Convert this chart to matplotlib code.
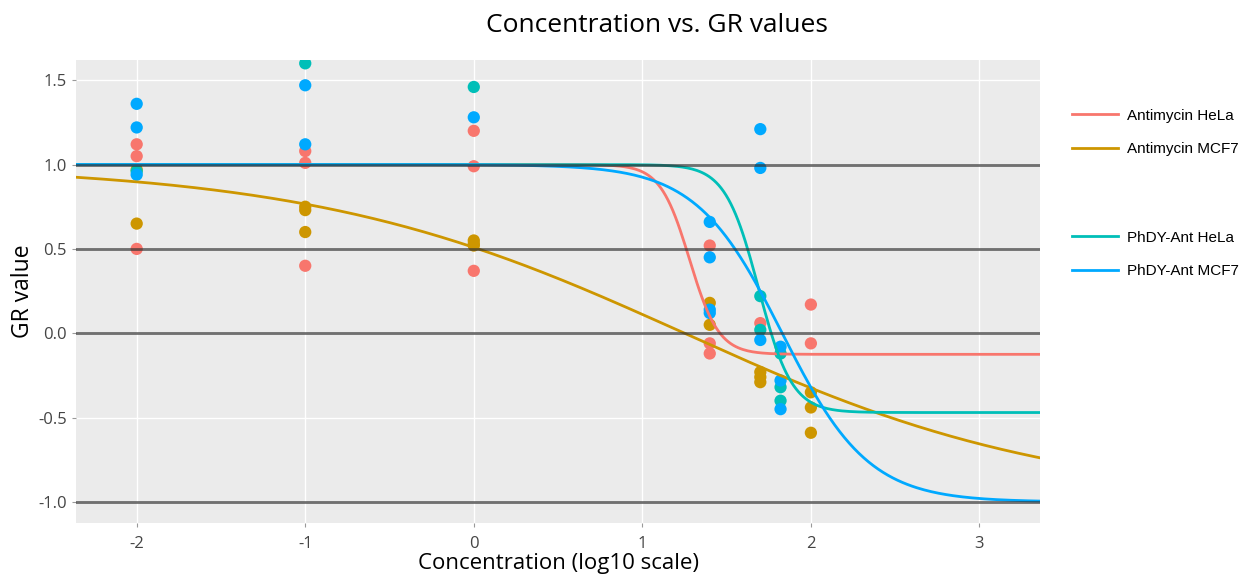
import numpy as np
import matplotlib.pyplot as plt
from matplotlib.lines import Line2D

plt.rcParams['font.family'] = ['Open Sans', 'DejaVu Sans']
plt.rcParams['axes.unicode_minus'] = False

# ---- data (log10 concentration, GR value) ----
hela_x = [-2, -2, -2, -1, -1, -1, 0, 0, 0, 1.4, 1.4, 1.4, 1.7, 2.0, 2.0]
hela_y = [1.12, 1.05, 0.50, 1.08, 1.01, 0.40, 1.20, 0.99, 0.37, 0.52, -0.06, -0.12, 0.06, 0.17, -0.06]

mcf7_x = [-2, -2, -1, -1, -1, 0, 0, 0, 1.4, 1.4, 1.7, 1.7, 1.7, 2.0, 2.0, 2.0]
mcf7_y = [0.97, 0.65, 0.75, 0.73, 0.60, 0.55, 0.53, 0.52, 0.18, 0.05, -0.23, -0.26, -0.29, -0.35, -0.44, -0.59]

phdy_hela_x = [-2, -1, 0, 1.7, 1.7, 1.82, 1.82, 1.82]
phdy_hela_y = [0.96, 1.60, 1.46, 0.22, 0.02, -0.12, -0.32, -0.40]

phdy_mcf7_x = [-2, -2, -2, -1, -1, 0, 1.4, 1.4, 1.4, 1.4, 1.7, 1.7, 1.7, 1.82, 1.82, 1.82]
phdy_mcf7_y = [1.36, 1.22, 0.94, 1.47, 1.12, 1.28, 0.66, 0.45, 0.14, 0.12, 1.21, 0.98, -0.04, -0.08, -0.28, -0.45]

# fitted curve parameters: GRinf, log10 GEC50, hill slope
fit_names = ['Antimycin HeLa', 'Antimycin MCF7', 'PhDY-Ant HeLa', 'PhDY-Ant MCF7']
fit_grinf = [-0.125, -1.0, -0.47, -1.0]
fit_gec50 = [1.28, 1.25, 1.69, 1.83]
fit_hill = [5.0, 0.39, 4.4, 1.7]
colors = ['#F8766D', '#CD9600', '#00BFB8', '#00A9FF']


def gr_curve(x, ginf, x50, h):
    return ginf + (1 - ginf) / (1 + 10 ** (h * (x - x50)))


fig = plt.figure(figsize=(12.44, 5.75), dpi=100)
ax = fig.add_axes([0.0611, 0.0904, 0.775, 0.8053])
ax.set_facecolor('#EBEBEB')
for s in ax.spines.values():
    s.set_visible(False)

# points
pts = [(hela_x, hela_y), (mcf7_x, mcf7_y), (phdy_hela_x, phdy_hela_y), (phdy_mcf7_x, phdy_mcf7_y)]
for (px, py), c in zip(pts, colors):
    ax.scatter(px, py, s=78, color=c, edgecolors='none', zorder=3)

# curves
xs = np.linspace(-2.36, 3.36, 400)
for g, x50, h, c in zip(fit_grinf, fit_gec50, fit_hill, colors):
    ax.plot(xs, gr_curve(xs, g, x50, h), color=c, lw=2.0, zorder=4)

# reference lines
for yv in [1.0, 0.5, 0.0, -1.0]:
    ax.axhline(yv, color='#333333', lw=2.0, alpha=0.7, zorder=5)

ax.set_xlim(-2.36, 3.36)
ax.set_ylim(-1.125, 1.62)
ax.set_xticks([-2, -1, 0, 1, 2, 3])
ax.set_yticks([-1.0, -0.5, 0.0, 0.5, 1.0, 1.5])
ax.set_yticklabels(['-1.0', '-0.5', '0.0', '0.5', '1.0', '1.5'])
ax.grid(True, color='white', lw=1.0)
ax.set_axisbelow(True)
ax.tick_params(axis='both', colors='#999999', labelcolor='#444444', labelsize=12, length=3)
ax.tick_params(axis='x', pad=6)

ax.set_xlabel('Concentration (log10 scale)', fontsize=16, labelpad=1)
ax.set_ylabel('GR value', fontsize=16.5, labelpad=2)
fig.suptitle('Concentration vs. GR values', fontsize=19, x=0.528, y=0.978)

# legend in two groups, like the reference
handles = [Line2D([0], [0], color=c, lw=2.0) for c in colors]
leg_font = {'family': 'Liberation Sans', 'size': 11}
fig.legend(handles[:2], fit_names[:2], loc='upper left', bbox_to_anchor=(0.851, 0.835),
           frameon=False, prop=leg_font, handlelength=3.0, handletextpad=0.6, labelspacing=1.3)
fig.legend(handles[2:], fit_names[2:], loc='upper left', bbox_to_anchor=(0.851, 0.623),
           frameon=False, prop=leg_font, handlelength=3.0, handletextpad=0.6, labelspacing=1.3)

fig.savefig('out.png', dpi=100)
